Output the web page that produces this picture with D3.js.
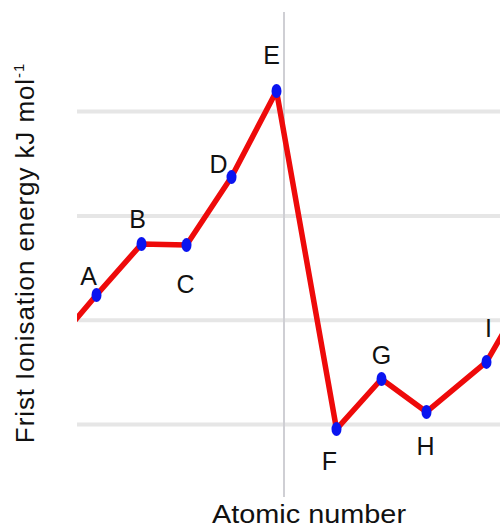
<!DOCTYPE html>
<html>
<head>
<meta charset="utf-8">
<script src="https://cdn.jsdelivr.net/npm/d3@7"></script>
<style>
  body { margin: 0; background: #fff; }
  text { font-family: "Liberation Sans", Arial, sans-serif; fill: #111; }
</style>
</head>
<body>
<div id="chart"></div>
<script>
// element labels along the period
const labels = ["A", "B", "C", "D", "E", "F", "G", "H", "I"];
// relative position along the atomic number axis
const atomicPos = [0, 3, 6, 9, 12, 16, 19, 22, 26];
// first ionisation energy (kJ/mol)
const energy = [1121, 1365, 1360, 1686, 2099, 478, 718, 560, 800];
// the line runs on past the frame at both ends
const leadIn = { x: -3, y: 867 };
const leadOut = { x: 29, y: 1174 };
const gridValues = [500, 1000, 1500, 2000];
const dividerPos = 12.5;

const width = 500, height = 529;
const margin = { left: 77, right: 0 };

const svg = d3.select("#chart").append("svg")
    .attr("width", width)
    .attr("height", height);

const x = d3.scaleLinear()
    .domain([0, 26])
    .range([96.5, 96.5 + 26 * 15]);

const y = d3.scaleLinear()
    .domain([500, 2000])
    .range([424.5, 424.5 - 3 * 104.3]);

svg.append("defs").append("clipPath")
    .attr("id", "plotclip")
    .append("rect")
    .attr("x", margin.left)
    .attr("y", 0)
    .attr("width", width - margin.left)
    .attr("height", height);

// horizontal grid
svg.append("g")
    .selectAll("line")
    .data(gridValues)
    .enter()
    .append("line")
    .attr("x1", margin.left)
    .attr("x2", width)
    .attr("y1", d => y(d))
    .attr("y2", d => y(d))
    .attr("stroke", "#e6e6e6")
    .attr("stroke-width", 4);

// vertical divider
svg.append("line")
    .attr("x1", x(dividerPos))
    .attr("x2", x(dividerPos))
    .attr("y1", 12)
    .attr("y2", 497)
    .attr("stroke", "#cfcfd4")
    .attr("stroke-width", 2);

const data = labels.map((l, i) => ({ label: l, x: atomicPos[i], y: energy[i] }));
const lineData = [leadIn].concat(data, [leadOut]);

const line = d3.line()
    .x(d => x(d.x))
    .y(d => y(d.y));

svg.append("path")
    .datum(lineData)
    .attr("clip-path", "url(#plotclip)")
    .attr("d", line)
    .attr("fill", "none")
    .attr("stroke", "#ee0a0a")
    .attr("stroke-width", 5.5)
    .attr("stroke-linejoin", "round");

svg.append("g")
    .selectAll("ellipse")
    .data(data)
    .enter()
    .append("ellipse")
    .attr("cx", d => x(d.x))
    .attr("cy", d => y(d.y))
    .attr("rx", 5)
    .attr("ry", 7)
    .attr("fill", "#0a14f0");

// label offsets relative to each point (dx, baseline dy)
const labelOffset = {
    A: [-8, -10], B: [-4, -16], C: [-1, 48], D: [-13, -4], E: [-5, -27],
    F: [-7, 41], G: [0, -15], H: [-1, 43], I: [2, -25]
};

svg.append("g")
    .selectAll("text")
    .data(data)
    .enter()
    .append("text")
    .attr("x", d => x(d.x) + labelOffset[d.label][0])
    .attr("y", d => y(d.y) + labelOffset[d.label][1])
    .attr("text-anchor", "middle")
    .attr("font-size", 25)
    .text(d => d.label);

// axis titles
svg.append("text")
    .attr("x", 309)
    .attr("y", 523)
    .attr("text-anchor", "middle")
    .attr("font-size", 25)
    .attr("textLength", 194)
    .attr("lengthAdjust", "spacingAndGlyphs")
    .text("Atomic number");

const yTitle = svg.append("text")
    .attr("transform", "translate(34,253) rotate(-90)")
    .attr("text-anchor", "middle")
    .attr("font-size", 26)
    .attr("letter-spacing", 0.9);
yTitle.append("tspan").text("Frist Ionisation energy kJ mol");
yTitle.append("tspan")
    .attr("font-size", 15)
    .attr("dy", -10)
    .text("-1");
</script>
</body>
</html>
